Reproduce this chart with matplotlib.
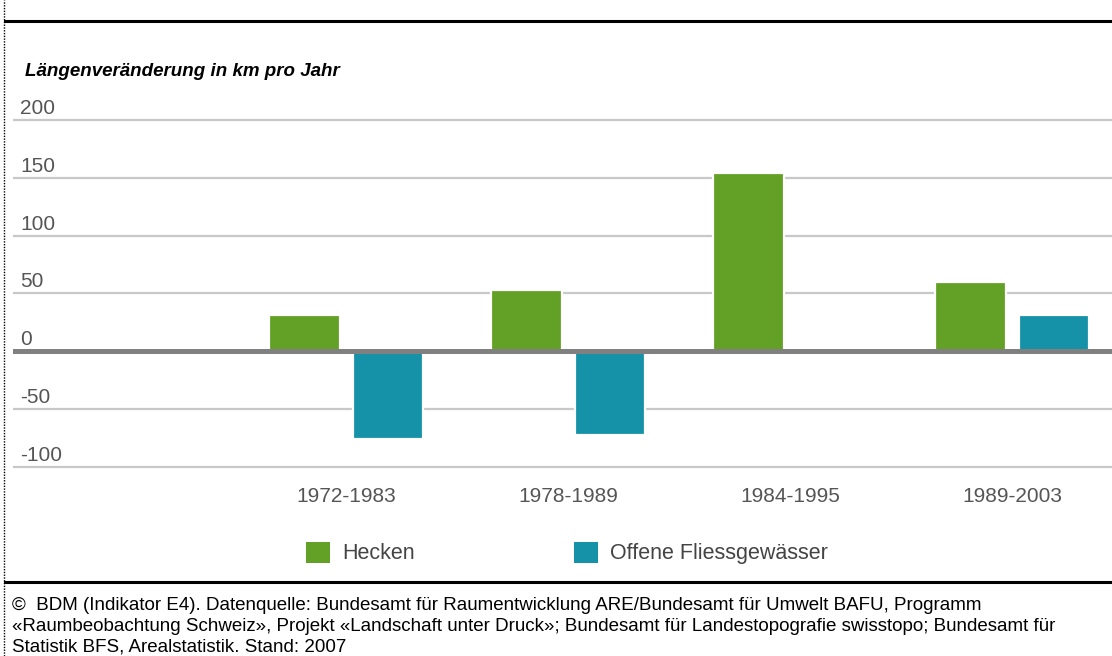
import matplotlib.pyplot as plt
from matplotlib.patches import Patch
from matplotlib.lines import Line2D

periods = ['1972-1983', '1978-1989', '1984-1995', '1989-2003']
hecken = [31, 53, 154, 60]
gewaesser = [-76, -72, 0, 31]
yticks = [200, 150, 100, 50, 0, -50, -100]

green = '#62a125'
teal = '#1591a8'

W, H = 1112, 656


def main():
    plt.rcParams['font.family'] = ['Liberation Sans', 'DejaVu Sans']
    fig = plt.figure(figsize=(W / 100, H / 100), dpi=100)

    # axes placement in pixels: 0 at y=351.3, 1.157 px per unit
    ylo, yhi = -110, 210
    top_px = 351.3 - 1.157 * yhi
    bot_px = 351.3 - 1.157 * ylo
    ax = fig.add_axes([13 / W, 1 - bot_px / H, 1 - 13 / W, (bot_px - top_px) / H])
    ax.set_ylim(ylo, yhi)
    ax.set_xlim(-0.5, 4.45)
    for s in ax.spines.values():
        s.set_visible(False)

    for v in yticks:
        if v != 0:
            ax.axhline(v, color='#c8c8c8', lw=1.6, zorder=1)
        ax.annotate(str(v), xy=(0, v), xycoords=('axes fraction', 'data'),
                    xytext=(7, 2), textcoords='offset pixels',
                    ha='left', va='bottom', fontsize=15, color='#555555')

    x = [1, 2, 3, 4]
    bw = 0.316
    ax.bar([i - 0.187 for i in x], hecken, width=bw, color=green,
           edgecolor='white', linewidth=1.6, zorder=2)
    ax.bar([i + 0.19 for i in x], gewaesser, width=bw, color=teal,
           edgecolor='white', linewidth=1.6, zorder=2)
    ax.axhline(0, color='#808080', lw=3.6, zorder=3)

    ax.set_yticks([])
    ax.set_xticks(x)
    ax.set_xticklabels(periods, fontsize=15, color='#555555')
    ax.tick_params(axis='x', length=0, pad=6)

    fig.text(25 / W, 1 - 71 / H, 'Längenveränderung in km pro Jahr',
             fontsize=13.5, fontweight='bold', fontstyle='italic',
             ha='left', va='center')

    handles = [Patch(facecolor=green, edgecolor='none', label='Hecken'),
               Patch(facecolor=teal, edgecolor='none', label='Offene Fliessgewässer')]
    leg = fig.legend(handles=handles, ncol=2, frameon=False,
                     loc='center left', bbox_to_anchor=(306 / W, 1 - 553 / H),
                     fontsize=15.5, handlelength=1.12, handleheight=1.12,
                     handletextpad=0.56, columnspacing=7.4, borderpad=0,
                     borderaxespad=0)
    for t in leg.get_texts():
        t.set_color('#444444')

    # frame lines
    fig.add_artist(Line2D([5 / W, 1], [1 - 21 / H, 1 - 21 / H], color='black', lw=2.2))
    fig.add_artist(Line2D([5 / W, 1], [1 - 582 / H, 1 - 582 / H], color='black', lw=2.2))
    fig.add_artist(Line2D([4 / W, 4 / W], [0, 1], color='black', lw=1, ls=(0, (1, 1))))

    footer = ('©  BDM (Indikator E4). Datenquelle: Bundesamt für Raumentwicklung ARE/Bundesamt für Umwelt BAFU, Programm\n'
              '«Raumbeobachtung Schweiz», Projekt «Landschaft unter Druck»; Bundesamt für Landestopografie swisstopo; Bundesamt für\n'
              'Statistik BFS, Arealstatistik. Stand: 2007')
    fig.text(12 / W, 1 - 597 / H, footer, fontsize=13.5, ha='left', va='top',
             linespacing=1.3)

    fig.savefig('out.png', dpi=100)


if __name__ == '__main__':
    main()
